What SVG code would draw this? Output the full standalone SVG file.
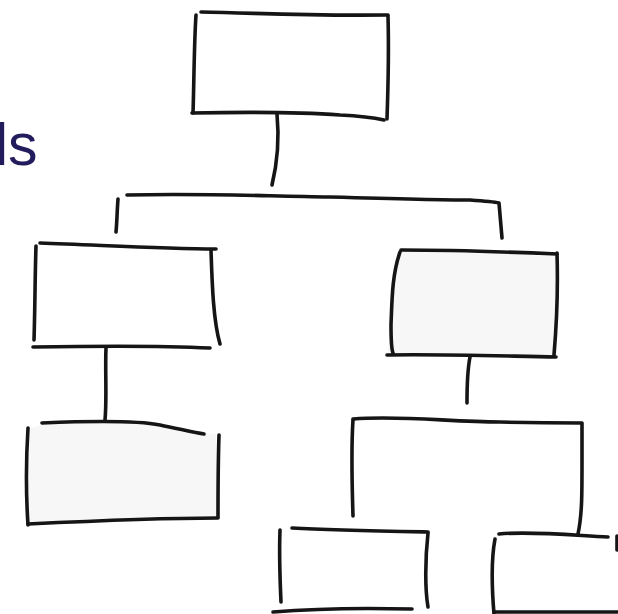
<svg xmlns="http://www.w3.org/2000/svg" width="618" height="614" viewBox="0 0 618 614">
<style>
.s{fill:none;stroke:#151515;stroke-width:3.6;stroke-linecap:round;stroke-linejoin:round}
.f{fill:#f7f7f7;stroke:none}
.t{font-family:"Liberation Sans",Arial,sans-serif;font-size:59px;fill:#221c5c}
</style>
<rect width="618" height="614" fill="#ffffff"/>
<text class="t" x="-5" y="165">ls</text>
<g id="connectors">
<path class="s" d="M277,114 C279,135 278,160 272,185"/>
<path class="s" d="M127,195 C200,193 260,196 330,197 C400,199 440,200 470,200 C485,201 495,202 499,203 L502,238"/>
<path class="s" d="M118,199 C117,212 117,222 116,232"/>
<path class="s" d="M106,348 C105,372 107,398 105,420"/>
<path class="s" d="M470,357 C467,372 467,388 467,403"/>
<path class="s" d="M353,420 C351,450 352,485 353,516"/>
<path class="s" d="M353,419 C400,415 450,422 500,422 C540,423 565,423 582,423 L582,466 C582,495 582,515 578,534"/>
</g>
<g id="node-top">
<path class="s" d="M201,12 C260,13 300,16 388,15"/>
<path class="s" d="M196,15 C194,45 194,85 193,113"/>
<path class="s" d="M388,16 C389,50 388,90 387,119"/>
<path class="s" d="M192,113 C240,112 300,112 340,115 C360,116 375,118 384,120"/>
</g>
<g id="node-mid-left">
<path class="s" d="M40,243 C100,245 160,249 216,249"/>
<path class="s" d="M36,246 C35,275 35,310 34,340"/>
<path class="s" d="M211,250 C212,280 213,320 220,344"/>
<path class="s" d="M33,347 C90,346 150,345 210,348"/>
</g>
<g id="node-bottom-left">
<path class="f" d="M30,428 L42,425 C90,421 140,421 160,425 C180,429 195,433 216,434 L218,518 L28,524 Z"/>
<path class="s" d="M42,423 C90,421 140,421 160,425 C180,429 195,433 204,434"/>
<path class="s" d="M28,428 C26,460 26,495 28,525"/>
<path class="s" d="M219,435 C218,465 218,495 218,517"/>
<path class="s" d="M28,524 C90,521 160,518 218,518"/>
</g>
<g id="node-mid-right">
<path class="f" d="M402,252 L557,254 L557,355 L388,355 C390,320 391,280 402,252 Z"/>
<path class="s" d="M401,250 C460,250 510,252 557,254"/>
<path class="s" d="M400,252 C392,275 392,300 391,325 C391,340 391,348 393,353"/>
<path class="s" d="M557,253 C558,285 557,320 554,355"/>
<path class="s" d="M387,355 C440,354 500,356 556,357"/>
</g>
<g id="node-bottom-mid">
<path class="s" d="M292,528 C330,530 380,531 428,532"/>
<path class="s" d="M280,530 C279,555 280,580 281,602"/>
<path class="s" d="M428,533 C425,560 425,590 428,607"/>
<path class="s" d="M273,612 C320,608 370,608 412,609"/>
</g>
<g id="node-bottom-right">
<path class="s" d="M499,534 C530,531 570,535 608,537"/>
<path class="s" d="M495,539 C491,560 492,590 494,614"/>
<path class="s" d="M494,612 L620,612"/>
<path class="s" d="M617,536 L617,550"/>
</g>
</svg>
